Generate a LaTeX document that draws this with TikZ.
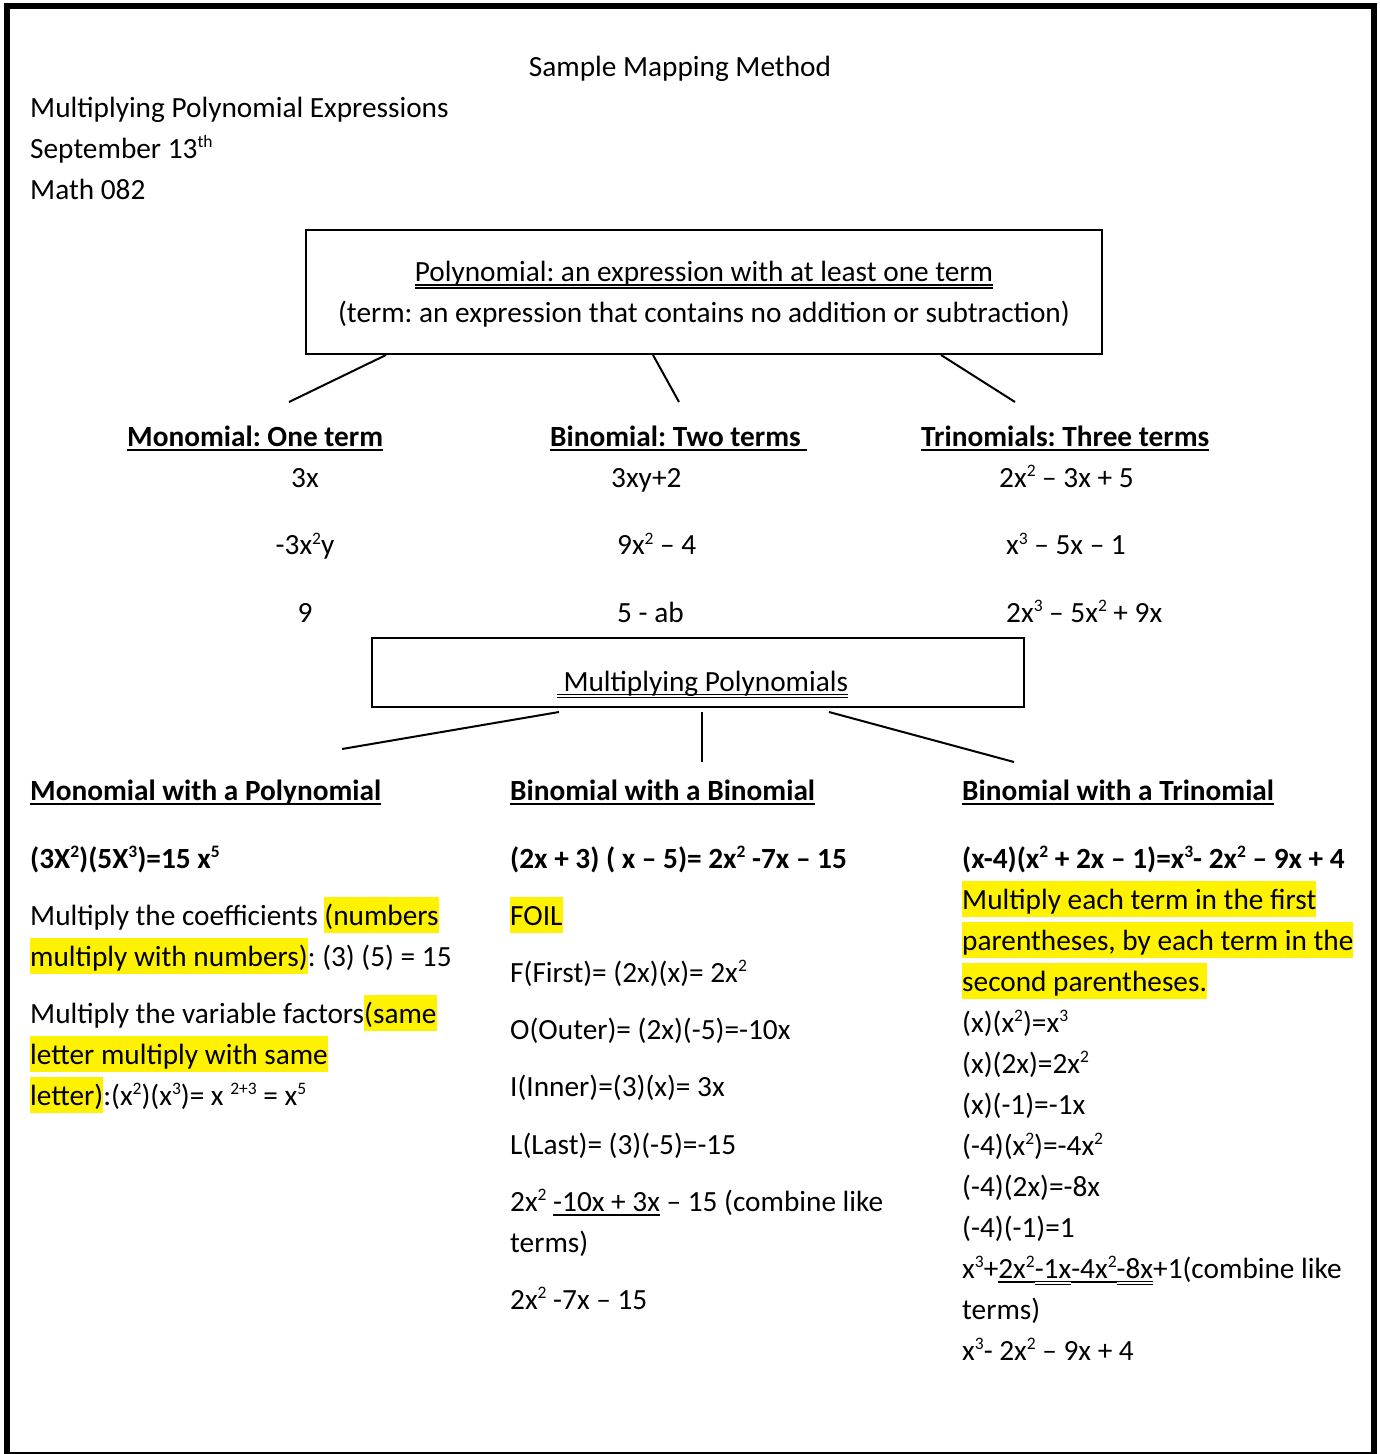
\documentclass[tikz,border=0pt]{standalone}
\usepackage{xcolor}
\usepackage{fontspec}
\setmainfont{Carlito}
\usepackage{tikz}
\usetikzlibrary{positioning}

\newcommand\basefont{\fontsize{29.3}{41}\selectfont\frenchspacing}
\newcommand\lstrut{\rule[-0.269em]{0pt}{1.221em}}
\newcommand\sups[1]{\raisebox{0.36em}{\fontsize{17.5}{17.5}\selectfont #1}}
\newcommand\hl[1]{{\setlength\fboxsep{0pt}\colorbox{yellow}{\lstrut #1}}}
\newsavebox\ulbox
\newcommand\ulone[1]{\sbox\ulbox{#1}\rlap{\rule[-5pt]{\wd\ulbox}{2pt}}\usebox\ulbox}
\newcommand\ultwo[1]{\sbox\ulbox{#1}\rlap{\rule[-4pt]{\wd\ulbox}{1.2pt}}\rlap{\rule[-7pt]{\wd\ulbox}{1.2pt}}\usebox\ulbox}

\begin{document}
\frenchspacing
\begin{tikzpicture}[x=1pt, y=-1pt,
    txt/.style={inner sep=0pt, anchor=north west, align=left, font=\basefont},
    line/.style={inner sep=0pt, anchor=base west, font=\basefont},
    head/.style={inner sep=0pt, anchor=base west, font=\basefont\bfseries},
    frame/.style={draw, line width=2pt, inner sep=0pt, align=center, font=\basefont},
    link/.style={line width=2pt}
]
    \useasboundingbox (0,0) rectangle (1380,1454);
    \draw[line width=6pt] (6.5,5.5) rectangle (1374,1455);

    % heading
    \node[line, anchor=base] (title) at (680,76) {Sample Mapping Method};
    \node[txt] (info) at (30,89) {\lstrut Multiplying Polynomial Expressions\\September 13\sups{th}\\Math 082};

    % definition of a polynomial
    \node[frame, minimum width=796pt, minimum height=124pt] (poly) at (704,292)
        {\lstrut\ultwo{Polynomial: an expression with at least one term}\\\lstrut(term: an expression that contains no addition or subtraction)};

    \node[head] (mono) at (127,446) {\ulone{Monomial: One term}};
    \node[head] (bino) at (550,446) {\ulone{Binomial: Two terms\ }};
    \node[head] (trino) at (921,446) {\ulone{Trinomials: Three terms}};

    \coordinate (mtop) at (289,402);
    \coordinate (btop) at (679,402);
    \coordinate (ttop) at (1015,402);
    \draw[link] ([xshift=81pt]poly.south west) -- (mtop);
    \draw[link] ([xshift=348pt]poly.south west) -- (btop);
    \draw[link] ([xshift=636pt]poly.south west) -- (ttop);

    \node[txt, align=center, anchor=north] (monoex) at (305,459)
        {\lstrut 3x\\[26.5pt]-3x\sups{2}y\\[26.5pt]9};
    \node[txt] (binoex) at (611,459)
        {\lstrut 3xy+2\\[26.5pt]\hspace*{6pt}9x\sups{2} – 4\\[26.5pt]\hspace*{6pt}5 - ab};
    \node[txt] (trinoex) at (999,459)
        {\lstrut 2x\sups{2} – 3x + 5\\[26.5pt]\hspace*{7pt}x\sups{3} – 5x – 1\\[26.5pt]\hspace*{7pt}2x\sups{3} – 5x\sups{2} + 9x};

    % multiplying
    \node[frame, minimum width=652pt, minimum height=69pt, text height=40pt, text depth=3pt] (mult) at (698,672.5)
        {\hspace*{9pt}\ultwo{\ Multiplying Polynomials}};

    \node[head] (monopoly) at (30,800) {\ulone{Monomial with a Polynomial}};
    \node[head] (binobino) at (510,800) {\ulone{Binomial with a Binomial}};
    \node[head] (binotrino) at (962,800) {\ulone{Binomial with a Trinomial}};

    \coordinate (mptop) at (342,749);
    \coordinate (bbtop) at (702,762);
    \coordinate (bttop) at (1014,762);
    \draw[link] ([xshift=188pt,yshift=-4pt]mult.south west) -- (mptop);
    \draw[link] ([yshift=-4pt]mult.south -| bbtop) -- (bbtop);
    \draw[link] ([xshift=458pt,yshift=-4pt]mult.south west) -- (bttop);

    \node[txt] (monosteps) at (30,840.1)
        {\lstrut\textbf{(3X\sups{2})(5X\sups{3})=15 x\sups{5}}\\[16pt]
         Multiply the coefficients \hl{(numbers}\\
         \hl{multiply with numbers)}: (3) (5) = 15\\[16pt]
         Multiply the variable factors\hl{(same}\\
         \hl{letter multiply with same}\\
         \hl{letter)}:(x\sups{2})(x\sups{3})= x \sups{2+3} = x\sups{5}};

    \node[txt] (binosteps) at (510,840.1)
        {\lstrut\textbf{(2x + 3) ( x – 5)= 2x\sups{2} -7x – 15}\\[16pt]
         \hl{FOIL}\\[16pt]
         F(First)= (2x)(x)= 2x\sups{2}\\[16pt]
         O(Outer)= (2x)(-5)=-10x\\[16pt]
         I(Inner)=(3)(x)= 3x\\[17pt]
         L(Last)= (3)(-5)=-15\\[16pt]
         2x\sups{2} \ulone{-10x + 3x} – 15 (combine like\\
         terms)\\[16pt]
         2x\sups{2} -7x – 15};

    \node[txt] (trinosteps) at (962,840.1)
        {\lstrut\textbf{(x-4)(x\sups{2} + 2x – 1)=x\sups{3}- 2x\sups{2} – 9x + 4}\\
         \hl{Multiply each term in the first}\\
         \hl{parentheses, by each term in the}\\
         \hl{second parentheses.}\\
         (x)(x\sups{2})=x\sups{3}\\
         (x)(2x)=2x\sups{2}\\
         (x)(-1)=-1x\\
         (-4)(x\sups{2})=-4x\sups{2}\\
         (-4)(2x)=-8x\\
         (-4)(-1)=1\\
         x\sups{3}+\ulone{2x\sups{2}}\ultwo{-1x}\ulone{-4x\sups{2}}\ultwo{-8x}+1(combine like\\
         terms)\\
         x\sups{3}- 2x\sups{2} – 9x + 4};
\end{tikzpicture}
\end{document}
